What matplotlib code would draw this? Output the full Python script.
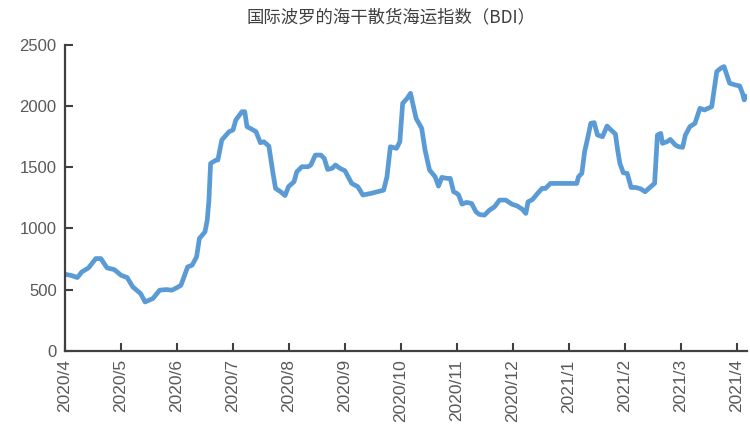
import numpy as np
import matplotlib.pyplot as plt

plt.rcParams['font.family'] = ['Liberation Sans', 'Noto Sans CJK SC', 'DejaVu Sans']

# x: months since 2020/4, y: BDI
month_pos = [
    0.00, 0.12, 0.22, 0.30, 0.42, 0.55, 0.64, 0.75, 0.88, 1.00,
    1.11, 1.21, 1.35, 1.43, 1.57, 1.69, 1.81, 1.91, 2.00,
    2.07, 2.19, 2.27, 2.35, 2.40, 2.50, 2.54, 2.57, 2.60, 2.70, 2.73, 2.80, 2.93, 3.00,
    3.05, 3.16, 3.21, 3.25, 3.34, 3.41, 3.49, 3.55, 3.64, 3.71, 3.76, 3.85, 3.93, 3.99,
    4.09, 4.14, 4.23, 4.34, 4.39, 4.47, 4.57, 4.63, 4.69, 4.77, 4.83, 4.91, 5.00,
    5.12, 5.23, 5.32, 5.40, 5.46, 5.69, 5.75, 5.81, 5.92, 5.98,
    6.03, 6.11, 6.17, 6.27, 6.37, 6.43, 6.51, 6.61, 6.67, 6.73, 6.82, 6.88, 6.94, 7.00,
    7.03, 7.09, 7.17, 7.26, 7.34, 7.40, 7.49, 7.58, 7.67, 7.76, 7.87, 7.98,
    8.08, 8.17, 8.23, 8.27, 8.35, 8.45, 8.52, 8.58, 8.67, 8.73, 8.85, 9.00,
    9.14, 9.17, 9.23, 9.28, 9.34, 9.39, 9.45, 9.51, 9.60, 9.68, 9.75, 9.83, 9.87, 9.91, 9.97,
    10.04, 10.11, 10.19, 10.28, 10.36, 10.46, 10.53, 10.58, 10.64, 10.67, 10.75, 10.81, 10.90, 10.96,
    11.03, 11.08, 11.16, 11.25, 11.34, 11.42, 11.55, 11.64, 11.71, 11.77, 11.87, 11.97,
    12.05, 12.10, 12.13, 12.16,
]
bdi = [
    626, 615, 599, 645, 678, 754, 754, 678, 664, 618,
    599, 523, 468, 400, 428, 496, 501, 496, 517,
    536, 686, 700, 768, 918, 972, 1067, 1231, 1530, 1558, 1558, 1721, 1789, 1803,
    1884, 1952, 1952, 1830, 1808, 1789, 1699, 1707, 1672, 1462, 1326, 1299, 1268, 1340,
    1381, 1462, 1503, 1503, 1517, 1598, 1598, 1571, 1481, 1490, 1517, 1490, 1470,
    1367, 1340, 1272, 1280, 1285, 1312, 1421, 1666, 1653, 1707,
    2020, 2061, 2102, 1898, 1816, 1639, 1476, 1421, 1345, 1416, 1408, 1408, 1299, 1285,
    1272, 1198, 1212, 1204, 1135, 1114, 1108, 1149, 1176, 1231, 1231, 1198,
    1182, 1155, 1122, 1217, 1236, 1291, 1326, 1326, 1367, 1367, 1367, 1367,
    1367, 1421, 1449, 1626, 1748, 1857, 1863, 1762, 1748, 1835, 1803, 1770, 1639, 1530, 1454,
    1449, 1334, 1334, 1323, 1299, 1340, 1367, 1762, 1775, 1694, 1707, 1726, 1680, 1666,
    1661, 1762, 1830, 1857, 1980, 1966, 1993, 2279, 2306, 2320, 2184, 2170,
    2162, 2102, 2048, 2075,
]
month_labels = ['2020/4', '2020/5', '2020/6', '2020/7', '2020/8', '2020/9', '2020/10',
                '2020/11', '2020/12', '2021/1', '2021/2', '2021/3', '2021/4']
y_ticks = [0, 500, 1000, 1500, 2000, 2500]

title = '国际波罗的海干散货海运指数（BDI）'
line_color = '#5B9BD5'
axis_color = '#404040'
text_color = '#595959'

fig = plt.figure(figsize=(7.5, 4.47), dpi=100)
ax = fig.add_axes([0.0867, 0.2148, 0.9093, 0.6856])

ax.plot(month_pos, bdi, color=line_color, linewidth=3.4, solid_joinstyle='round')

ax.set_xlim(0, 12.18)
ax.set_ylim(0, 2500)
ax.set_yticks(y_ticks)
ax.set_xticks(np.arange(len(month_labels)))
ax.set_xticklabels(month_labels, rotation=90, fontsize=12.5, color=text_color)
ax.tick_params(axis='y', labelsize=12, labelcolor=text_color)
ax.tick_params(direction='in', length=6, width=1.5, color=axis_color, pad=6)

for side in ['top', 'right']:
    ax.spines[side].set_visible(False)
for side in ['left', 'bottom']:
    ax.spines[side].set_color(axis_color)
    ax.spines[side].set_linewidth(1.6)

fig.text(391 / 750, 1 - 17 / 447, title, ha='center', va='center',
         fontsize=12.5, color=axis_color, family=['Noto Sans CJK SC', 'DejaVu Sans'])

fig.savefig('out.png', dpi=100, facecolor='white')
